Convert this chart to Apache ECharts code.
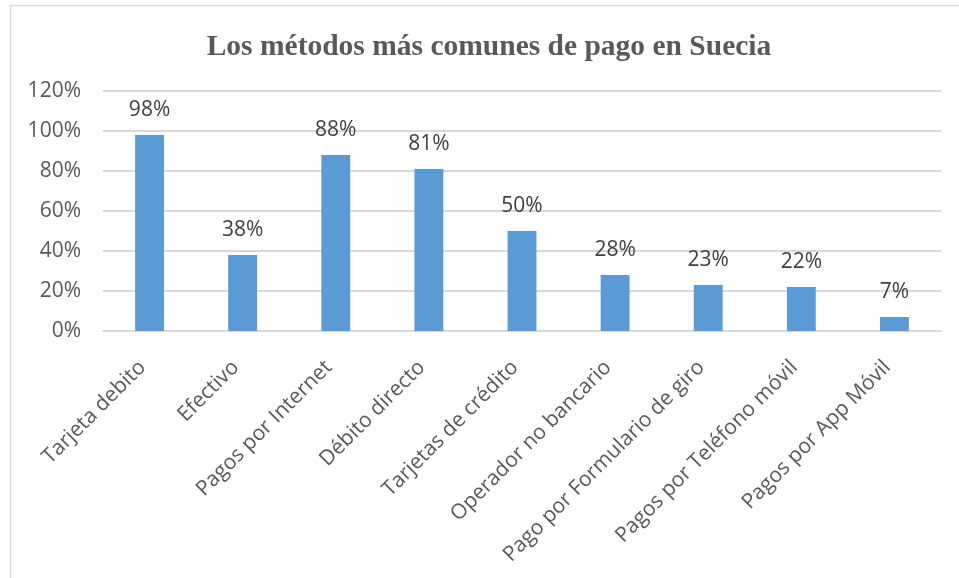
<!DOCTYPE html>
<html><head><meta charset="utf-8">
<script src="https://cdn.jsdelivr.net/npm/echarts@6/dist/echarts.min.js"></script>
<style>html,body{margin:0;padding:0;background:#fff}#c{width:959px;height:578px}</style>
</head><body><div id="c"></div>
<script>
const title = 'Los métodos más comunes de pago en Suecia';
const categories = ['Tarjeta debito','Efectivo','Pagos por Internet','Débito directo','Tarjetas de crédito','Operador no bancario','Pago por Formulario de giro','Pagos por Teléfono móvil','Pagos por App Móvil'];
const values = [98, 38, 88, 81, 50, 28, 23, 22, 7];
const yTicks = [0, 20, 40, 60, 80, 100, 120];

const chart = echarts.init(document.getElementById('c'));
chart.setOption({
  animation: false,
  backgroundColor: '#fff',
  graphic: [{type:'rect', shape:{x:10.5,y:5.5,width:1200,height:1200}, style:{fill:'none', stroke:'#d9d9d9', lineWidth:1.5}, silent:true}],
  title: {text: title, left: 484, textAlign:'center', top: 27,
    textStyle:{fontFamily:'Liberation Serif', fontWeight:'bold', fontSize:29.5, color:'#595959'}},
  grid: {left:103, right:18, top:91, bottom:247, containLabel:false},
  xAxis: {type:'category', data: categories,
    axisLine:{show:true, lineStyle:{color:'#d9d9d9', width:2}},
    axisTick:{show:false},
    axisLabel:{interval:0, rotate:45, margin:26, padding:[0,10,0,0], fontFamily:'Open Sans', fontSize:21, color:'#595959'}},
  yAxis: {type:'value', min:0, max:120, interval:20,
    axisLine:{show:false}, axisTick:{show:false},
    splitLine:{lineStyle:{color:'#d9d9d9', width:2}},
    axisLabel:{formatter: v => yTicks.includes(v) ? v + '%' : '', margin:22, fontFamily:'Open Sans', fontSize:21, color:'#595959'}},
  series: [{type:'bar', data: values, barWidth:'31%',
    itemStyle:{color:'#5b9bd5'},
    label:{show:true, position:'top', distance:14, formatter: p => p.value + '%', fontFamily:'Open Sans', fontSize:21, color:'#404040'}}]
});
</script></body></html>
